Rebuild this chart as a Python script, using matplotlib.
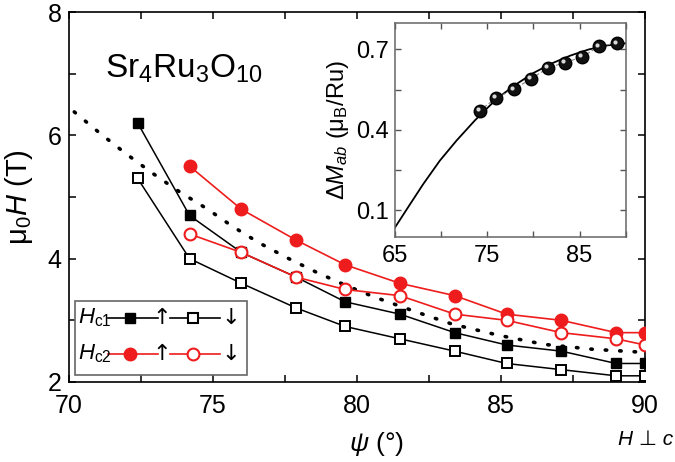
import matplotlib
matplotlib.use("Agg")
import matplotlib.pyplot as plt
from matplotlib.ticker import MultipleLocator, FixedLocator
from matplotlib.lines import Line2D
from matplotlib.patches import Rectangle
from matplotlib.transforms import offset_copy

plt.rcParams['font.family'] = ['Liberation Sans', 'DejaVu Sans']
plt.rcParams['mathtext.fontset'] = 'custom'
plt.rcParams['mathtext.rm'] = 'Liberation Sans'
plt.rcParams['mathtext.it'] = 'Liberation Sans:italic'
plt.rcParams['mathtext.bf'] = 'Liberation Sans:bold'

# ---- main data ----
psi = [72.4, 74.2, 76.0, 77.9, 79.6, 81.5, 83.4, 85.2, 87.1, 89.0, 90.0]
hc1_up = [6.2, 4.7, 4.1, 3.7, 3.3, 3.1, 2.8, 2.6, 2.5, 2.3, 2.3]
hc1_down = [5.3, 4.0, 3.6, 3.2, 2.9, 2.7, 2.5, 2.3, 2.2, 2.1, 2.1]
psi2 = [74.2, 76.0, 77.9, 79.6, 81.5, 83.4, 85.2, 87.1, 89.0, 90.0]
hc2_up = [5.5, 4.8, 4.3, 3.9, 3.6, 3.4, 3.1, 3.0, 2.8, 2.8]
hc2_down = [4.4, 4.1, 3.7, 3.5, 3.4, 3.1, 3.0, 2.8, 2.7, 2.6]

dot_psi = [70.2, 71.1, 72.0, 72.9, 73.8, 74.8, 75.7, 76.6, 77.6, 78.6, 79.6,
           80.6, 82.1, 83.3, 84.9, 86.5, 88.2, 90.0]
dot_h = [6.38, 6.03, 5.70, 5.39, 5.10, 4.81, 4.52, 4.26, 4.01, 3.78, 3.57,
         3.38, 3.13, 2.94, 2.76, 2.61, 2.53, 2.48]

# ---- inset data ----
ins_psi = [74.2, 76.0, 77.9, 79.75, 81.6, 83.4, 85.3, 87.1, 89.1]
ins_dm = [0.472, 0.52, 0.551, 0.591, 0.631, 0.651, 0.672, 0.712, 0.724]
fit_psi = [65.0, 66.6, 68.06, 69.87, 71.68, 73.66, 76.0, 78.0, 80.0, 82.0,
           84.0, 86.0, 88.0, 90.0]
fit_dm = [0.035, 0.12, 0.197, 0.285, 0.36, 0.435, 0.515, 0.567, 0.612,
          0.648, 0.677, 0.700, 0.715, 0.723]

RED = '#ee1c1c'

fig = plt.figure(figsize=(6.75, 4.62), dpi=100)
ax = fig.add_axes([0.1015, 0.1732, 0.854, 0.8008])

ax.plot(dot_psi, dot_h, color='black', lw=2.6, linestyle=(0, (0.4, 3.6)),
        dash_capstyle='round', zorder=2)
ax.plot(psi, hc1_down, '-s', color='black', lw=1.1, ms=7.5, mfc='white',
        mec='black', mew=1.4, zorder=3)
ax.plot(psi, hc1_up, '-s', color='black', lw=1.1, ms=7.5, mfc='black',
        mec='black', zorder=4)
ax.plot(psi2, hc2_up, '-o', color=RED, lw=1.2, ms=9, mfc=RED, mec=RED,
        zorder=5)
ax.plot(psi2, hc2_down, '-o', color=RED, lw=1.2, ms=8.5, mfc='white',
        mec=RED, mew=1.5, zorder=6)

ax.set_xlim(70, 90)
ax.set_ylim(2, 8)
ax.xaxis.set_major_locator(MultipleLocator(5))
ax.xaxis.set_minor_locator(MultipleLocator(2.5))
ax.yaxis.set_major_locator(MultipleLocator(2))
ax.yaxis.set_minor_locator(MultipleLocator(1))
ax.tick_params(which='both', direction='in', top=True, right=True,
               length=5, width=1.1, labelsize=18)
ax.tick_params(axis='x', which='major', pad=9)
ax.tick_params(axis='y', which='major', pad=5)
for s in ax.spines.values():
    s.set_linewidth(1.2)

ax.set_ylabel(r'$\mathrm{\mu}_0H$ (T)', fontsize=21)
ax.yaxis.set_label_coords(-0.058, 0.5)
ax.set_xlabel(r'$\psi$ (°)', fontsize=19)
ax.xaxis.set_label_coords(0.535, -0.13)

fig.text(0.156, 0.833, r'Sr$_4$Ru$_3$O$_{10}$', fontsize=24,
         ha='left', va='baseline')
fig.text(0.997, 0.037, 'H ⊥ c', fontsize=15, style='italic', ha='right',
         va='baseline', family=['Liberation Sans', 'DejaVu Sans'])

# ---- legend (drawn manually) ----
tf = fig.transFigure
fig.patches.append(Rectangle((0.111, 0.188), 0.255, 0.160, transform=tf,
                             fill=True, facecolor='white', edgecolor='#666666',
                             lw=1.2, zorder=10))
rows = [(0.3117, 'black', 's', 7.5, r'$H_{\mathrm{c1}}$'),
        (0.2338, RED, 'o', 9, r'$H_{\mathrm{c2}}$')]
for y, c, m, ms, lab in rows:
    fig.text(0.1156, y, lab, fontsize=16, ha='left', va='center', zorder=11)
    fig.lines.append(Line2D([0.16, 0.234], [y, y], transform=tf, color=c,
                            lw=1.2, zorder=11))
    fig.lines.append(Line2D([0.1926], [y], transform=tf, marker=m, ms=ms,
                            mfc=c, mec=c, color=c, zorder=12))
    fig.text(0.240, y, '↑', fontsize=16, ha='center', va='center', zorder=11,
             family=['DejaVu Sans'])
    fig.lines.append(Line2D([0.2519, 0.3259], [y, y], transform=tf, color=c,
                            lw=1.2, zorder=11))
    fig.lines.append(Line2D([0.286], [y], transform=tf, marker=m,
                            ms=ms - 0.5, mfc='white', mec=c, mew=1.5,
                            zorder=12))
    fig.text(0.342, y, '↓', fontsize=16, ha='center', va='center', zorder=11,
             family=['DejaVu Sans'])

# ---- inset ----
axi = fig.add_axes([0.585, 0.487, 0.342, 0.464])
axi.plot(fit_psi, fit_dm, color='black', lw=1.3, zorder=2)
axi.plot(ins_psi, ins_dm, color='gray', lw=0.8, linestyle=(0, (3, 2)),
         zorder=3)
axi.plot(ins_psi, ins_dm, 'o', ms=9, mfc='#111111', mec='#000000', zorder=4)
hl = offset_copy(axi.transData, fig=fig, x=-2.0, y=1.5, units='dots')
axi.plot(ins_psi, ins_dm, 'o', ms=3, mfc='#d8d8d8', mec='none',
         transform=hl, zorder=5)
axi.set_xlim(65, 90)
axi.set_ylim(0, 0.8)
axi.xaxis.set_major_locator(FixedLocator([65, 75, 85]))
axi.xaxis.set_minor_locator(FixedLocator([70, 80, 90]))
axi.yaxis.set_major_locator(FixedLocator([0.1, 0.4, 0.7]))
axi.yaxis.set_minor_locator(FixedLocator([0.25, 0.55]))
axi.tick_params(which='both', direction='in', top=True, right=True,
                length=4, width=1.0, labelsize=17, color='#555555')
axi.tick_params(axis='x', which='major', pad=6)
axi.tick_params(axis='y', which='major', pad=4)
for s in axi.spines.values():
    s.set_linewidth(1.1)
    s.set_edgecolor('#666666')
axi.set_ylabel(r'$\Delta M_{ab}$ ($\mathrm{\mu}_\mathrm{B}$/Ru)', fontsize=17)
axi.yaxis.set_label_coords(-0.19, 0.5)

fig.savefig('out.png', dpi=100)
